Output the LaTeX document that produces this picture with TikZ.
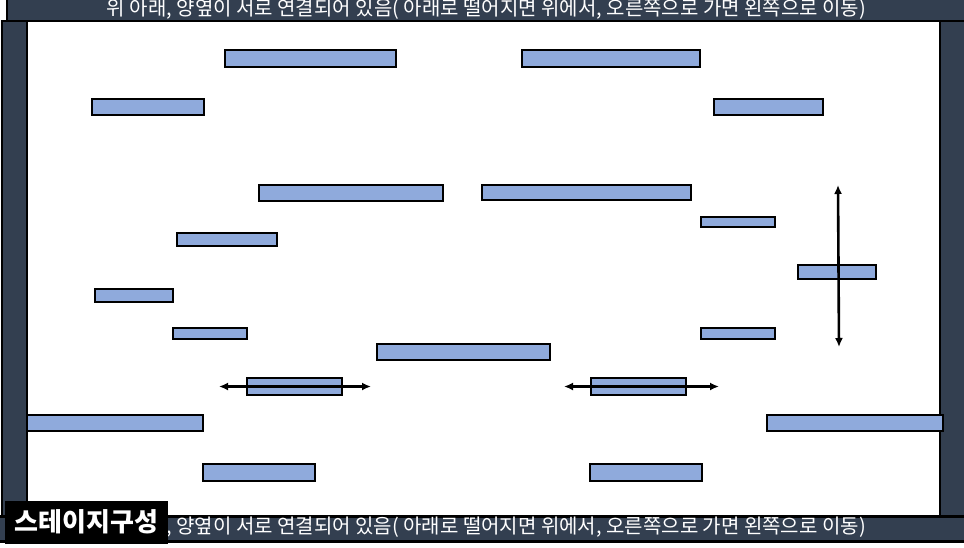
\documentclass[tikz,border=0pt]{standalone}
\usepackage{fontspec}
\setmainfont{Noto Sans CJK KR}
\usepackage{xcolor}
\usetikzlibrary{arrows.meta,positioning,calc}
\definecolor{wallgray}{HTML}{333F50}
\definecolor{platblue}{HTML}{8FAADC}

\begin{document}
\begin{tikzpicture}[
   x=1pt, y=-1pt, >={Latex[length=9pt,width=8pt]},
   wall/.style={draw=black,fill=wallgray,line width=2pt},
   plat/.style={draw=black,fill=platblue,line width=2pt,inner sep=0pt},
   bartxt/.style={text=white,font=\fontsize{20}{20}\selectfont,inner sep=0pt},
   move/.style={<->,line width=2.6pt}]
  \useasboundingbox (0,0) rectangle (964,547);
  % frame of the stage
  \fill[white] (0,0) rectangle (964,547);
  \draw[wall] (7,-2) rectangle (966,21);
  \draw[wall] (2,21) rectangle (27,516);
  \draw[wall] (940,21) rectangle (966,516);
  \draw[wall,line width=3pt] (-2,516) rectangle (966,541.5);
  \node[bartxt] (toptxt) at (486.5,9.5) {위 아래, 양옆이 서로 연결되어 있음( 아래로 떨어지면 위에서, 오른쪽으로 가면 왼쪽으로 이동)};
  \node[bartxt,anchor=east] (bottxt) at (866,527) {, 양옆이 서로 연결되어 있음( 아래로 떨어지면 위에서, 오른쪽으로 가면 왼쪽으로 이동)};
  \node[fill=black,text=white,font=\fontsize{26}{26}\bfseries\selectfont,
        minimum width=163pt,minimum height=43pt,inner sep=0pt] (title) at (86.5,522) {스테이지구성};
  % platforms: x1/y1/x2/y2
  \foreach \n/\xa/\ya/\xb/\yb in {
      a/225/50/396/67, b/522/50/700/67, c/92/99/204/115, d/714/99/823/115,
      e/259/185/443/201, f/482/185/691/200, g/701/217/775/227, h/177/233/277/246,
      lift/798/265/876/279, i/95/289/173/302, j/173/328/247/339, k/701/328/775/339,
      l/377/344/550/360, slideL/247/378/342/395, slideR/591/378/686/395,
      m/27/415/203/431, o/767/415/943/431, q/203/464/315/481, r/590/464/702/481}
    \node[plat,minimum width={(\xb-\xa)*1pt},minimum height={(\yb-\ya)*1pt}]
      (\n) at ({(\xa+\xb)/2},{(\ya+\yb)/2}) {};
  % moving platforms
  \draw[move] ($(slideL.west)+(-27,0)$) -- ($(slideL.east)+(28,0)$);
  \draw[move] ($(slideR.west)+(-26,0)$) -- ($(slideR.east)+(32,0)$);
  \draw[move] ($(lift.center)+(1,-87)$) -- ($(lift.center)+(2,75)$);
\end{tikzpicture}
\end{document}
